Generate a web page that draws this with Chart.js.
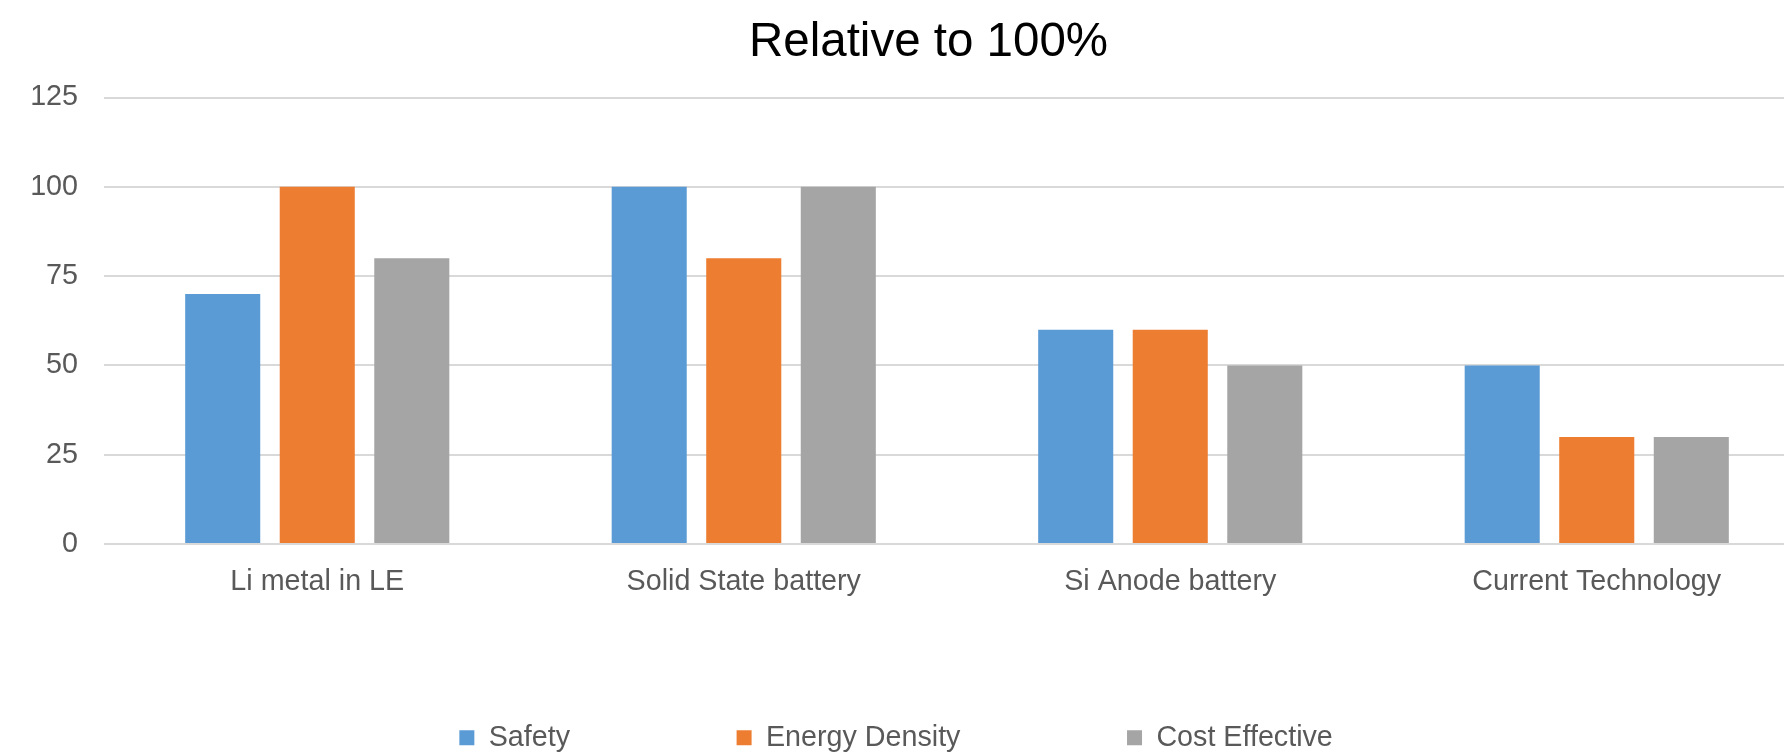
<!DOCTYPE html>
<html>
<head>
<meta charset="utf-8">
<title>Relative to 100%</title>
<script src="https://cdn.jsdelivr.net/npm/chart.js@4/dist/chart.umd.min.js"></script>
<style>
  html, body { margin: 0; padding: 0; background: #ffffff; overflow: hidden; }
  #wrap { position: relative; width: 1857px; height: 762px; }
</style>
</head>
<body>
<div id="wrap"><canvas id="chart"></canvas></div>
<script>
// Battery technologies compared, each score relative to 100%
const categories = ['Li metal in LE', 'Solid State battery', 'Si Anode battery', 'Current Technology'];
const seriesNames = ['Safety', 'Energy Density', 'Cost Effective'];
const safety = [70, 100, 60, 50];
const energyDensity = [100, 80, 60, 30];
const costEffective = [80, 100, 50, 30];
const yTicks = [0, 25, 50, 75, 100, 125];

const seriesValues = [safety, energyDensity, costEffective];
const seriesColors = ['#5B9BD5', '#ED7D31', '#A5A5A5'];

// trailing space added after each legend entry so the entries sit apart
const legendTrail = [8, 8, 6];

const FONT = "'Liberation Sans', Arial, Helvetica, sans-serif";
const TEXT = '#595959';

// nudges the title block a little to the right of the layout centre
const titleNudge = {
  id: 'titleNudge',
  afterLayout(chart) {
    const t = chart.titleBlock;
    if (t) { t.left += 8.5; t.right += 8.5; }
  }
};

new Chart(document.getElementById('chart'), {
  type: 'bar',
  data: {
    labels: categories,
    datasets: seriesNames.map((name, i) => ({
      label: name,
      data: seriesValues[i],
      backgroundColor: seriesColors[i],
      borderWidth: 0,
      categoryPercentage: 0.665,
      barPercentage: 0.794
    }))
  },
  plugins: [titleNudge],
  options: {
    responsive: true,
    maintainAspectRatio: false,
    animation: false,
    devicePixelRatio: 1,
    layout: { padding: { left: 30, right: 47, top: 0, bottom: 0 } },
    plugins: {
      title: {
        display: true,
        text: 'Relative to 100%',
        color: '#000000',
        font: { family: FONT, size: 47.5, weight: 'normal' },
        padding: { top: 14, bottom: 26.5 }
      },
      legend: {
        display: true,
        position: 'bottom',
        labels: {
          color: TEXT,
          font: { family: FONT, size: 28.7 },
          boxWidth: 15,
          boxHeight: 15,
          padding: 102.8,
          generateLabels(chart) {
            const items = Chart.defaults.plugins.legend.labels.generateLabels(chart);
            items.forEach((it, i) => {
              it.text = it.text + '\u00a0'.repeat(legendTrail[i] || 0);
              it.lineWidth = 0;
            });
            return items;
          }
        }
      },
      tooltip: { enabled: false }
    },
    scales: {
      x: {
        grid: { display: false, drawTicks: false },
        border: { display: false },
        ticks: {
          color: TEXT,
          font: { family: FONT, size: 28.7 },
          padding: 21,
          maxRotation: 0,
          autoSkip: false
        }
      },
      y: {
        min: 0,
        max: 125,
        afterBuildTicks(axis) {
          axis.ticks = yTicks.map(v => ({ value: v }));
        },
        afterFit(axis) {
          axis.width = 74;
        },
        grid: { color: '#D9D9D9', lineWidth: 2, drawTicks: false },
        border: { display: false },
        ticks: {
          color: TEXT,
          font: { family: FONT, size: 28.7 },
          padding: 26
        }
      }
    }
  }
});
</script>
</body>
</html>
